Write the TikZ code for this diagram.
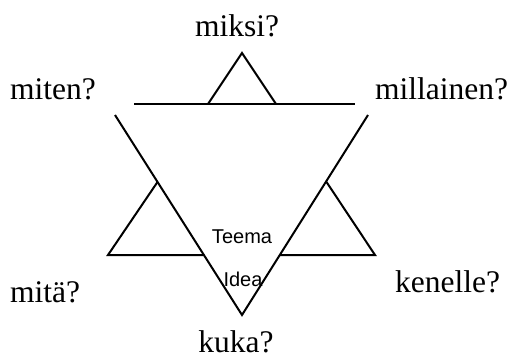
\documentclass[tikz,border=0pt]{standalone}
\usepackage{fontspec}
\setmainfont{Liberation Serif}
\newfontfamily\arialfont{Liberation Sans}
\begin{document}
\begin{tikzpicture}[x=1pt,y=-1pt,
  ln/.style={line width=2pt, line join=miter},
  q/.style={font=\fontsize{31.5}{31.5}\selectfont, inner sep=0pt},
  lab/.style={font=\arialfont\fontsize{20}{20}\selectfont, inner sep=0pt}]
\useasboundingbox (0,0) rectangle (510,358);
% coordinates
\coordinate (tA) at (242,53);
\coordinate (tL) at (208,104);
\coordinate (tR) at (276,104);
\coordinate (hL) at (134,104);
\coordinate (hR) at (355,104);
\coordinate (dL) at (115,115);
\coordinate (dR) at (368,115);
\coordinate (bot) at (242,315);
\coordinate (lA) at (157.5,182);
\coordinate (lL) at (108,255);
\coordinate (lR) at (204,255);
\coordinate (rA) at (326.5,182);
\coordinate (rR) at (375,255);
\coordinate (rL) at (280,255);
% shapes
\draw[ln] (hL) -- (hR);
\draw[ln] (tL) -- (tA) -- (tR);
\draw[ln] (dL) -- (bot) -- (dR);
\draw[ln] (lA) -- (lL) -- (lR);
\draw[ln] (rA) -- (rR) -- (rL);
% texts
\node[q, anchor=base] (miksi) at (237,37) {miksi?};
\node[q, anchor=base west] (miten) at (10,100) {miten?};
\node[q, anchor=base west] (millainen) at (375,100) {millainen?};
\node[q, anchor=base west] (mita) at (10,302) {mitä?};
\node[q, anchor=base west] (kenelle) at (395,292) {kenelle?};
\node[q, anchor=base] (kuka) at (236,352) {kuka?};
\node[lab, anchor=base] (teema) at (242,243) {Teema};
\node[lab, anchor=base] (idea) at (243,286) {Idea};
\end{tikzpicture}
\end{document}
